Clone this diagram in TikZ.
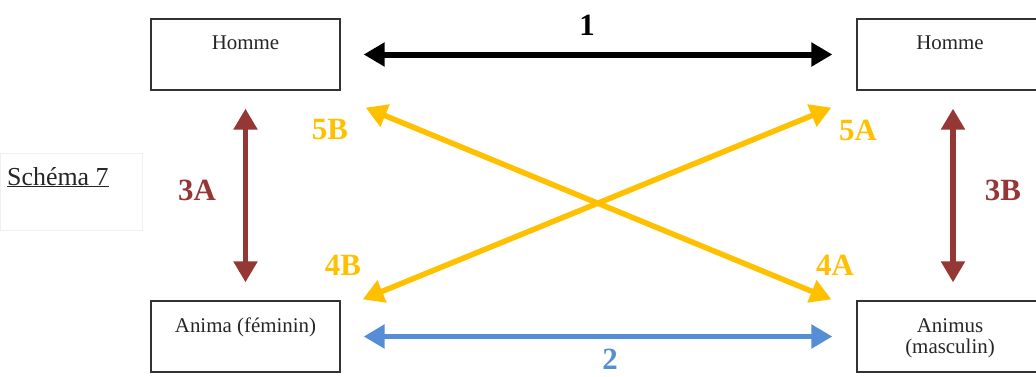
\documentclass[tikz,border=0pt]{standalone}
\usepackage{fontspec}
\setmainfont{Liberation Serif}
\usetikzlibrary{arrows.meta}
\definecolor{brn}{HTML}{953735}
\definecolor{ylw}{HTML}{FFC000}
\definecolor{blu}{HTML}{558ED5}
\begin{document}
\begin{tikzpicture}[x=1bp,y=-1bp,
  box/.style={draw=black!80, line width=1.3bp, minimum width=189bp, minimum height=71bp, inner sep=0pt},
  boxtxt/.style={font=\fontsize{21}{22}\selectfont, text=black!85, inner sep=0pt, anchor=base},
  arr/.style={line width=5.5bp, {Triangle[length=21bp,width=23bp]}-{Triangle[length=21bp,width=23bp]}},
  lbl/.style={font=\fontsize{31}{33}\selectfont\bfseries, inner sep=0pt}]
\clip (0,0) rectangle (1036,376);
\fill[white] (0,0) rectangle (1036,376);
% faint frame around the caption
\draw[black!6, line width=0.6bp] (0,153) rectangle (142,230);
\node[anchor=base west, font=\fontsize{26}{28}\selectfont, text=black!85, inner sep=0pt] (cap) at (7,185) {\underline{Schéma 7}};
% boxes
\node[box] (hl) at (245.5,54.5) {};
\node[box] (hr) at (951.5,54.5) {};
\node[box] (bl) at (245.5,336.5) {};
\node[box] (br) at (951.5,336.5) {};
\node[boxtxt] (thl) at (245.5,49) {Homme};
\node[boxtxt] (thr) at (950,49) {Homme};
\node[boxtxt] (tbl) at (245.5,332) {Anima (féminin)};
\node[boxtxt] (tbr) at (950,332) {\renewcommand{\arraystretch}{1}\setlength{\tabcolsep}{0pt}\begin{tabular}[t]{c}Animus\\(masculin)\end{tabular}};
% arrows
\draw[arr, black, line width=6bp] ([xshift=23bp]hl.east) -- ([xshift=-24bp]hr.west);
\draw[arr, blu] ([xshift=23bp]bl.east) -- ([xshift=-24bp]br.west);
\draw[arr, brn] ([yshift=-18bp]hl.south) -- ([yshift=18bp]bl.north);
\draw[arr, brn] ([shift={(1.5,18)}]hr.south) -- ([shift={(1.5,-18)}]br.north);
\draw[arr, ylw] ([shift={(25,17)}]hl.south east) -- ([shift={(-25,-1)}]br.north west);
\draw[arr, ylw] ([shift={(22,-1)}]bl.north east) -- ([shift={(-25,17)}]hr.south west);
% labels
\node[lbl, text=black] (l1) at (587,25) {1};
\node[lbl, text=blu] (l2) at (610,359) {2};
\node[lbl, text=brn] (l3a) at (197,190) {3A};
\node[lbl, text=brn] (l3b) at (1003,190) {3B};
\node[lbl, text=ylw] (l5b) at (330,130) {5B};
\node[lbl, text=ylw] (l5a) at (858,130) {5A};
\node[lbl, text=ylw] (l4b) at (343,265) {4B};
\node[lbl, text=ylw] (l4a) at (835,265) {4A};
\end{tikzpicture}
\end{document}
